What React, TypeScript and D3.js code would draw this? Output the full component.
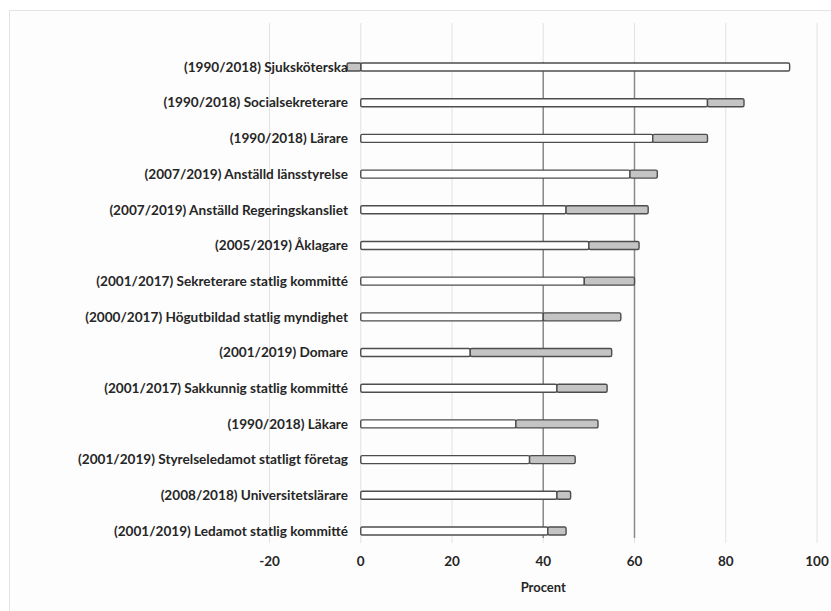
import React from "react";
import * as d3 from "d3";

const categories = [
  "(1990/2018) Sjuksköterska",
  "(1990/2018) Socialsekreterare",
  "(1990/2018) Lärare",
  "(2007/2019) Anställd länsstyrelse",
  "(2007/2019) Anställd Regeringskansliet",
  "(2005/2019) Åklagare",
  "(2001/2017) Sekreterare statlig kommitté",
  "(2000/2017) Högutbildad statlig myndighet",
  "(2001/2019) Domare",
  "(2001/2017) Sakkunnig statlig kommitté",
  "(1990/2018) Läkare",
  "(2001/2019) Styrelseledamot statligt företag",
  "(2008/2018) Universitetslärare",
  "(2001/2019) Ledamot statlig kommitté",
];
const baseValues = [94, 76, 64, 59, 45, 50, 49, 40, 24, 43, 34, 37, 43, 41];
const changeValues = [-3, 8, 12, 6, 18, 11, 11, 17, 31, 11, 18, 10, 3, 4];
const tickValues = [-20, 0, 20, 40, 60, 80, 100];
const referenceLines = [40, 60];
const axisTitle = "Procent";

export default function App() {
  const W = 831;
  const H = 611;
  const x = d3.scaleLinear().domain([-20, 100]).range([269.5, 817]);
  const y = d3
    .scaleBand<string>()
    .domain(categories)
    .range([49.2, 548.8])
    .paddingInner(0.78)
    .paddingOuter(0.39);
  const bh = 8;
  const font = "Lato, 'Open Sans', sans-serif";
  const gridTop = 23;
  const gridBottom = 543;
  const yc = (c: string) => (y(c) as number) + y.bandwidth() / 2;
  const first = categories[0];
  const last = categories[categories.length - 1];

  return (
    <svg
      width={W}
      height={H}
      style={{ position: "absolute", left: 0, top: 0, background: "#ffffff" }}
    >
      <rect x={9.5} y={10.5} width={W} height={H} fill="#fdfdfd" stroke="#e4e4e4" strokeWidth={1} />
      {tickValues.map((t) => (
        <line
          key={"g" + t}
          x1={x(t)}
          x2={x(t)}
          y1={gridTop}
          y2={gridBottom}
          stroke="#e2e2e2"
          strokeWidth={1}
        />
      ))}
      {referenceLines.map((t) => (
        <line
          key={"r" + t}
          x1={x(t)}
          x2={x(t)}
          y1={yc(first) - bh / 2 - 1}
          y2={yc(last) + 7}
          stroke="#8a8a8a"
          strokeWidth={1.5}
        />
      ))}
      {categories.map((c, i) => {
        const b = baseValues[i];
        const ch = changeValues[i];
        const cy = yc(c);
        const gx0 = ch >= 0 ? x(b) : x(ch);
        const gx1 = ch >= 0 ? x(b + ch) : x(0);
        return (
          <g key={c}>
            <rect
              x={x(0)}
              y={cy - bh / 2}
              width={x(b) - x(0)}
              height={bh}
              rx={1.5}
              fill="#ffffff"
              stroke="#4d4d4d"
              strokeWidth={1.4}
            />
            <rect
              x={gx0}
              y={cy - bh / 2}
              width={gx1 - gx0}
              height={bh}
              rx={1.5}
              fill="#c4c4c4"
              stroke="#4d4d4d"
              strokeWidth={1.4}
            />
            <text
              x={348}
              y={cy}
              dy="0.35em"
              textAnchor="end"
              fontFamily={font}
              fontWeight={700}
              fontSize={13.6}
              fill="#262626"
            >
              {c}
            </text>
          </g>
        );
      })}
      {tickValues.map((t) => (
        <text
          key={"t" + t}
          x={x(t)}
          y={561}
          dy="0.35em"
          textAnchor="middle"
          fontFamily={font}
          fontWeight={700}
          fontSize={13.5}
          fill="#262626"
        >
          {t}
        </text>
      ))}
      <text
        x={x(40)}
        y={587}
        dy="0.35em"
        textAnchor="middle"
        fontFamily={font}
        fontWeight={700}
        fontSize={13}
        fill="#262626"
      >
        {axisTitle}
      </text>
    </svg>
  );
}
